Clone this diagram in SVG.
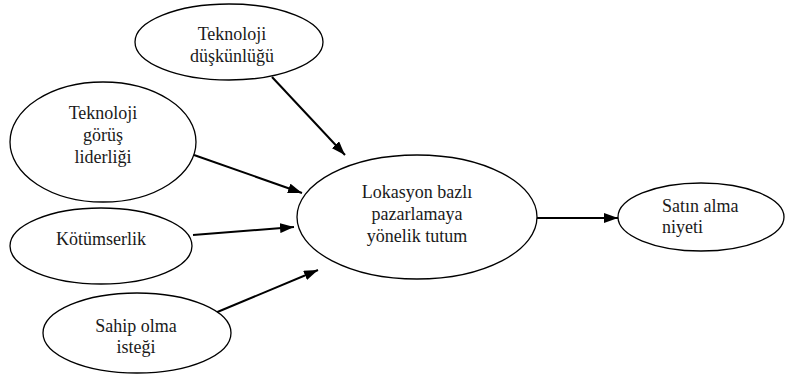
<svg xmlns="http://www.w3.org/2000/svg" width="792" height="382" viewBox="0 0 792 382">
<style>
.n ellipse{fill:#fff;stroke:#000;stroke-width:1.3}
.e line{stroke:#000;stroke-width:2;marker-end:url(#ah)}
</style>
<defs>
<marker id="ah" viewBox="0 0 14 10" refX="14" refY="5" markerWidth="7" markerHeight="5" orient="auto" markerUnits="strokeWidth">
<path d="M0,0 L14,5 L0,10 Z" fill="#000"/>
</marker>
</defs>
<rect width="792" height="382" fill="#fff"/>
<g class="e">
<line x1="272" y1="77" x2="345" y2="155"/>
<line x1="194" y1="155" x2="302" y2="193"/>
<line x1="193" y1="235" x2="294" y2="227"/>
<line x1="215" y1="313" x2="318" y2="270"/>
<line x1="537" y1="218" x2="618" y2="218"/>
</g>
<g font-family="Liberation Serif, serif" font-size="18" fill="#1a1a1a" text-anchor="middle">
<g id="n1" class="n"><ellipse cx="229" cy="42" rx="94" ry="38"/><text x="232" y="40">Teknoloji</text><text x="232" y="62">düşkünlüğü</text></g>
<g id="n2" class="n"><ellipse cx="103" cy="142" rx="93" ry="60"/><text x="103" y="119">Teknoloji</text><text x="103" y="141">görüş</text><text x="103" y="163">liderliği</text></g>
<g id="n3" class="n"><ellipse cx="101" cy="246" rx="91" ry="38"/><text x="101" y="245">Kötümserlik</text></g>
<g id="n4" class="n"><ellipse cx="137" cy="333" rx="94" ry="40"/><text x="136" y="332">Sahip olma</text><text x="136" y="353">isteği</text></g>
<g id="n5" class="n"><ellipse cx="417" cy="217" rx="120" ry="62"/><text x="417" y="198">Lokasyon bazlı</text><text x="417" y="220">pazarlamaya</text><text x="417" y="242">yönelik tutum</text></g>
<g id="n6" class="n"><ellipse cx="701" cy="217" rx="83" ry="34"/><text x="662" y="212" text-anchor="start">Satın alma</text><text x="662" y="233" text-anchor="start">niyeti</text></g>
</g>
</svg>
